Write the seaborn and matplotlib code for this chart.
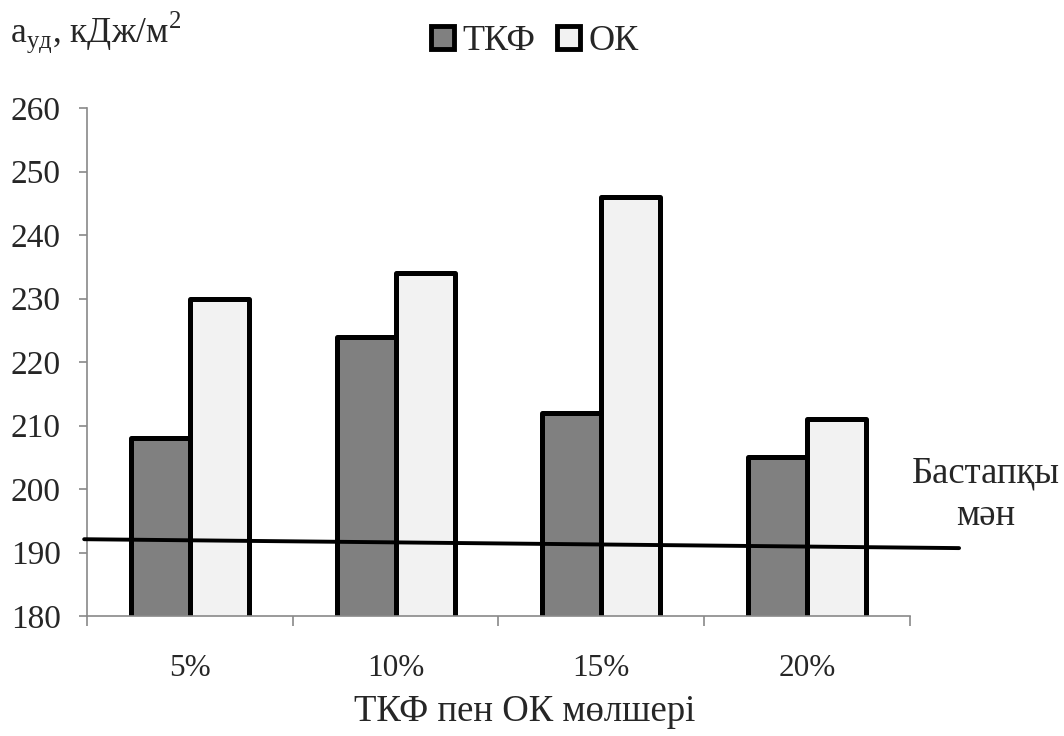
import matplotlib
matplotlib.use("Agg")
import matplotlib.pyplot as plt
import seaborn as sns
import pandas as pd
from matplotlib.patches import Patch

sns.set_theme(style="white")
plt.rcParams["font.family"] = ["Liberation Serif", "DejaVu Serif"]
plt.rcParams["mathtext.fontset"] = "custom"
plt.rcParams["mathtext.rm"] = "Liberation Serif"

categories = ["5%", "10%", "15%", "20%"]
tkf_values = [208, 224, 212, 205]
ok_values = [230, 234, 246, 211]
series_names = ["ТКФ", "ОК"]
baseline_start = 192.1
baseline_end = 190.7

df = pd.DataFrame({
    "cat": categories * 2,
    "val": tkf_values + ok_values,
    "series": [series_names[0]] * 4 + [series_names[1]] * 4,
})

GRID = "#898989"
palette = {series_names[0]: "#808080", series_names[1]: "#f2f2f2"}

fig = plt.figure(figsize=(10.64, 7.36), dpi=100)
ax = fig.add_axes([0.082, 0.163, 0.773, 0.690])

sns.barplot(data=df, x="cat", y="val", hue="series", palette=palette,
            width=0.575, edgecolor="black", linewidth=3.6, ax=ax,
            legend=False, saturation=1)
for p in ax.patches:
    p.set_joinstyle("round")

ax.set_ylim(180, 260)
ax.set_xlim(-0.5, 3.5)
ax.set_yticks(range(180, 261, 10))
ax.tick_params(axis="y", labelsize=24, length=6, width=1.2, color=GRID,
               direction="out", left=True, pad=13)
ax.set_xticks(range(len(categories)))
ax.set_xticklabels(categories)
ax.tick_params(axis="x", which="major", length=0, labelsize=22.5, pad=27)
ax.set_xticks([-0.5, 0.5, 1.5, 2.5, 3.5], minor=True)
ax.tick_params(axis="x", which="minor", length=7, width=1.2, color=GRID,
               direction="out", bottom=True)

for s in ["top", "right"]:
    ax.spines[s].set_visible(False)
for s in ["left", "bottom"]:
    ax.spines[s].set_color(GRID)
    ax.spines[s].set_linewidth(1.2)

ax.set_xlabel("ТКФ пен ОК мөлшері", fontsize=26.5)
ax.xaxis.set_label_coords(0.532, -0.155)
ax.set_ylabel("")

# base value line, extending beyond the plotting area
ax.plot([-0.515, 3.74], [baseline_start, baseline_end], color="black",
        linewidth=2.8, clip_on=False, zorder=5)
fig.text(986 / 1064, 1 - 482 / 736, "Бастапқы", ha="center", va="baseline",
         fontsize=26.5)
fig.text(986 / 1064, 1 - 525 / 736, "мән", ha="center", va="baseline",
         fontsize=26.5)

fig.text(10 / 1064, 1 - 42 / 736, r"a$_{\mathrm{уд}}$, кДж/м$^{2}$",
         ha="left", va="baseline", fontsize=25.5)

handles = [Patch(facecolor=palette[n], edgecolor="black", linewidth=3.5)
           for n in series_names]
fig.legend(handles, series_names, loc="center",
           bbox_to_anchor=(535 / 1064, 1 - 42 / 736),
           ncol=2, frameon=False, fontsize=26, handlelength=0.62,
           handleheight=0.62, handletextpad=0.25, columnspacing=0.6,
           borderpad=0, borderaxespad=0)

fig.savefig("out.png", dpi=100, facecolor="white")
